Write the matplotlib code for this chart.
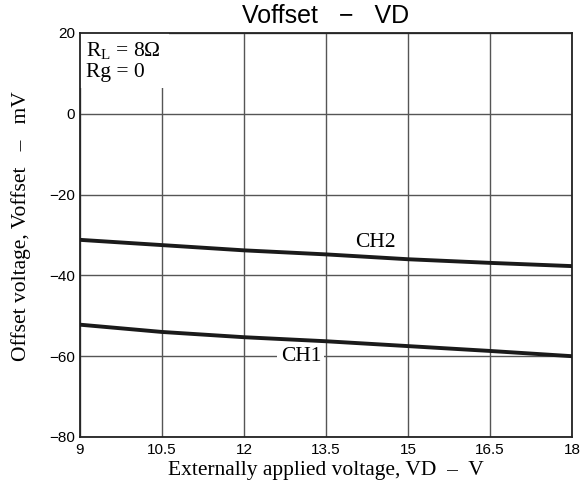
import matplotlib.pyplot as plt
from matplotlib.patches import Rectangle

# values
vd = [9, 10.5, 12, 13.5, 15, 16.5, 18]
ch1 = [-52.2, -54.0, -55.3, -56.3, -57.5, -58.7, -60.0]
ch2 = [-31.2, -32.5, -33.8, -34.8, -36.0, -36.9, -37.7]
xticks = [9, 10.5, 12, 13.5, 15, 16.5, 18]
xticklabels = ['9', '10.5', '12', '13.5', '15', '16.5', '18']
yticks = [-80, -60, -40, -20, 0, 20]
yticklabels = ['\u221280', '\u221260', '\u221240', '\u221220', '0', '20']

serif = ['Liberation Serif', 'DejaVu Serif']
sans = ['Liberation Sans', 'DejaVu Sans']
plt.rcParams['mathtext.fontset'] = 'custom'
plt.rcParams['mathtext.rm'] = 'Liberation Serif'

fig = plt.figure(figsize=(5.82, 4.92), dpi=100)
ax = fig.add_axes([80 / 582, 55 / 492, 492 / 582, 404 / 492])

ax.set_xlim(9, 18)
ax.set_ylim(-80, 20)
ax.set_xticks(xticks)
ax.set_xticklabels(xticklabels, family=sans, fontsize=11)
ax.set_yticks(yticks)
ax.set_yticklabels(yticklabels, family=sans, fontsize=11)
ax.tick_params(axis='x', length=0, pad=4)
ax.tick_params(axis='y', length=0, pad=3.5)
ax.grid(True, color='#555555', linewidth=1)
ax.set_axisbelow(True)
for s in ax.spines.values():
    s.set_linewidth(1.3)
    s.set_color('#222222')

ax.plot(vd, ch1, color='#1a1a1a', linewidth=2.8, zorder=3)
ax.plot(vd, ch2, color='#1a1a1a', linewidth=2.8, zorder=3)

# white patch behind the condition text (hides the grid there)
ax.add_patch(Rectangle((0, 0.864), 0.18, 0.136, transform=ax.transAxes,
                       facecolor='white', edgecolor='none', zorder=1))
ax.text(0.012, 0.943, 'R$_\\mathregular{L}$ = 8\u03a9', transform=ax.transAxes,
        family=serif, fontsize=15.5, va='baseline', ha='left', zorder=4)
ax.text(0.012, 0.891, 'Rg = 0', transform=ax.transAxes,
        family=serif, fontsize=15.5, va='baseline', ha='left', zorder=4)

ax.text(14.4, -31.8, 'CH2', family=serif, fontsize=15.5, ha='center', va='center', zorder=4)
ax.text(13.04, -60, 'CH1', family=serif, fontsize=15.5, ha='center', va='center', zorder=2.5,
        bbox=dict(facecolor='white', edgecolor='none', boxstyle='square,pad=0.15'))

ax.set_title('Voffset   \u2212   VD', family=sans, fontsize=18, pad=7)
ax.set_xlabel('Externally applied voltage, VD  \u2013  V', family=serif, fontsize=15.5, labelpad=3)
ax.set_ylabel('Offset voltage, Voffset   \u2013   mV', family=serif, fontsize=15.5)
ax.yaxis.set_label_coords(-0.0996, 0.522)

fig.savefig('out.png', dpi=100)
